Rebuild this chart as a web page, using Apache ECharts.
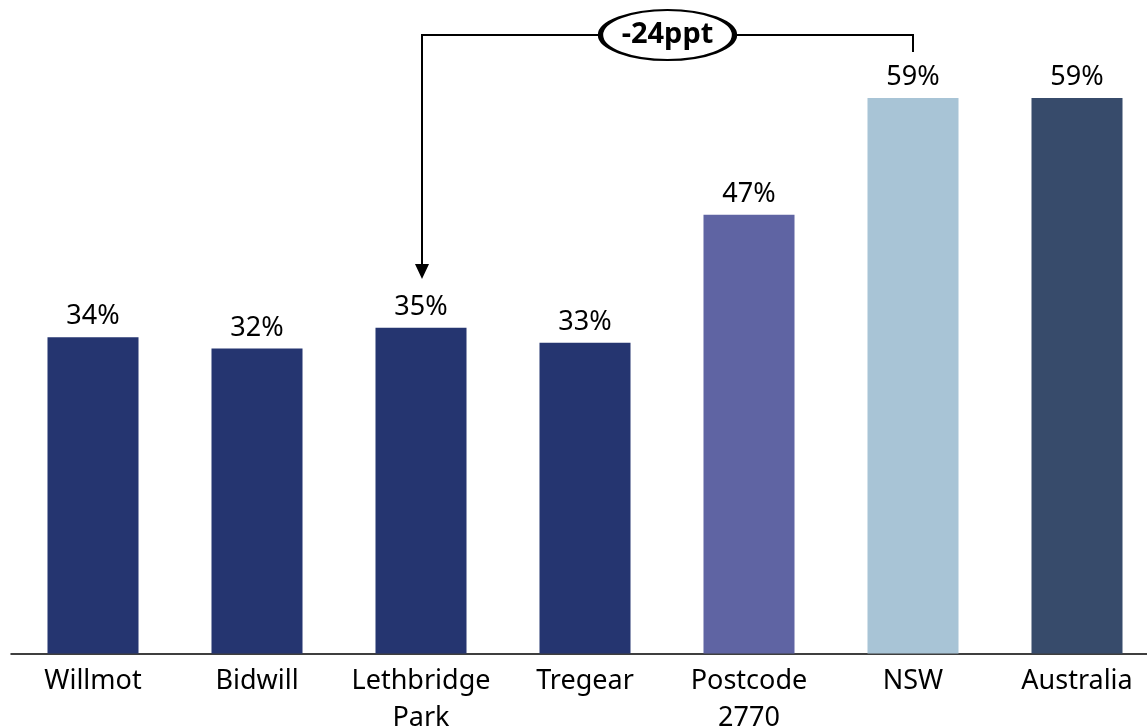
<!DOCTYPE html>
<html>
<head>
<meta charset="utf-8">
<title>Share by area</title>
<script src="https://cdn.jsdelivr.net/npm/echarts@6/dist/echarts.min.js"></script>
<style>
  html, body { margin: 0; padding: 0; background: #fff; }
  #chart { width: 1147px; height: 728px; }
</style>
</head>
<body>
<div id="chart"></div>
<script>
const categories = ['Willmot', 'Bidwill', 'Lethbridge\nPark', 'Tregear', 'Postcode\n2770', 'NSW', 'Australia'];
const values = [33.6, 32.4, 34.6, 33.0, 46.6, 59.0, 59.0];
const barColors = ['#253570', '#253570', '#253570', '#253570', '#5f64a3', '#a8c4d6', '#374b6b'];
const gapLabel = '-24ppt';
const gapFrom = 5; // NSW
const gapTo = 2;   // Lethbridge Park

const fontFamily = '"Noto Sans", "Open Sans", sans-serif';

const chart = echarts.init(document.getElementById('chart'));

chart.setOption({
  animation: false,
  grid: { left: 11, right: -12, top: 88.6, bottom: 74.5, outerBoundsMode: 'none', containLabel: false },
  xAxis: {
    type: 'category',
    data: categories,
    axisLine: { lineStyle: { color: '#000', width: 1.5 } },
    axisTick: { show: false },
    axisLabel: {
      color: '#000',
      fontSize: 27,
      fontFamily: fontFamily,
      lineHeight: 37,
      margin: 9,
      interval: 0
    }
  },
  yAxis: {
    type: 'value',
    min: 0,
    max: 60,
    show: false,
    splitLine: { show: false }
  },
  series: [{
    type: 'bar',
    barWidth: '55.5%',
    data: values.map((v, i) => ({ value: v, itemStyle: { color: barColors[i] } })),
    label: {
      show: true,
      position: 'top',
      distance: 7,
      color: '#000',
      fontSize: 27,
      fontFamily: fontFamily,
      formatter: p => Math.round(p.value) + '%'
    }
  }]
});

// bracket annotation between NSW and Lethbridge Park
const xFrom = chart.convertToPixel({ xAxisIndex: 0 }, gapFrom);
const xTo = chart.convertToPixel({ xAxisIndex: 0 }, gapTo) + 1;
const lineY = 35;
const fromEndY = 52;
const arrowTipY = 279;
const midX = (xFrom + xTo) / 2;
const stroke = { stroke: '#000', lineWidth: 2, fill: null };

chart.setOption({
  graphic: [
    { type: 'polyline', shape: { points: [[xFrom, fromEndY], [xFrom, lineY], [xTo, lineY], [xTo, arrowTipY - 14]] }, style: stroke },
    { type: 'polygon', shape: { points: [[xTo - 7, arrowTipY - 15], [xTo + 7, arrowTipY - 15], [xTo, arrowTipY]] }, style: { fill: '#000' } },
    {
      type: 'circle', x: midX, y: lineY, scaleX: 67 / 25, scaleY: 1,
      shape: { cx: 0, cy: 0, r: 25 },
      style: { fill: '#fff', stroke: '#000', lineWidth: 2, strokeNoScale: true }
    },
    {
      type: 'text', x: midX, y: lineY,
      style: {
        text: gapLabel, fill: '#000', fontSize: 29, fontWeight: 'bold',
        fontFamily: fontFamily, align: 'center', verticalAlign: 'middle'
      }
    }
  ]
});

window.addEventListener('resize', () => chart.resize());
</script>
</body>
</html>
